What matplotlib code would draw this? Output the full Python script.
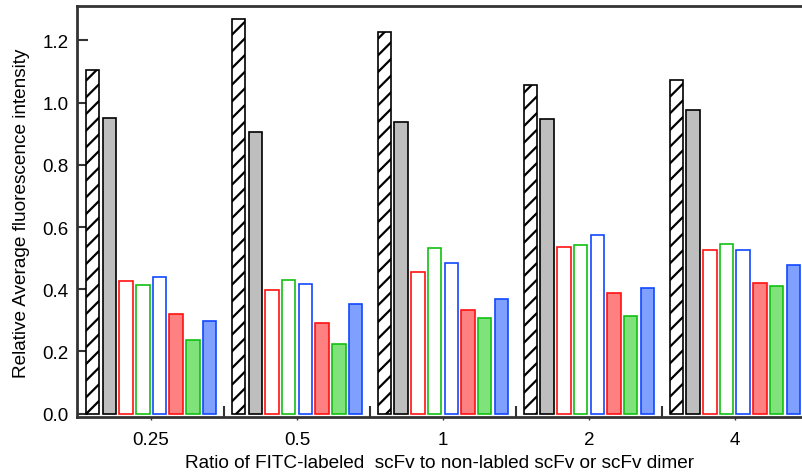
import numpy as np
import matplotlib
matplotlib.use("Agg")
import matplotlib.pyplot as plt
from matplotlib.ticker import FixedLocator

plt.rcParams['font.family'] = ['Liberation Sans', 'DejaVu Sans']
plt.rcParams['hatch.linewidth'] = 1.6

ratios = ['0.25', '0.5', '1', '2', '4']

# one list per bar series, in the order they appear inside each group
hatched = [1.104, 1.270, 1.226, 1.058, 1.073]
gray = [0.952, 0.907, 0.938, 0.949, 0.976]
red_open = [0.427, 0.399, 0.457, 0.535, 0.527]
green_open = [0.415, 0.431, 0.533, 0.542, 0.546]
blue_open = [0.440, 0.417, 0.485, 0.573, 0.526]
red_fill = [0.319, 0.290, 0.334, 0.387, 0.420]
green_fill = [0.237, 0.225, 0.308, 0.313, 0.410]
blue_fill = [0.299, 0.353, 0.370, 0.404, 0.478]

series = [hatched, gray, red_open, green_open, blue_open, red_fill, green_fill, blue_fill]
faces = ['white', '#bebebe', 'white', 'white', 'white', '#ff8080', '#80e27a', '#80a0ff']
edges = ['black', 'black', '#ff1010', '#10c010', '#1048ff', '#ff1010', '#10c010', '#1048ff']
hatches = ['//', None, None, None, None, None, None, None]

fig = plt.figure(figsize=(8.02, 4.77), dpi=100)
ax = fig.add_axes([0.0956, 0.123, 0.9044, 0.8617])

x = np.arange(len(ratios))
pitch = 0.1144
width = 0.0925
for k, vals in enumerate(series):
    ax.bar(x + (k - 3.5) * pitch, vals, width, color=faces[k], edgecolor=edges[k],
           linewidth=1.2, hatch=hatches[k], zorder=2)

ax.set_xlim(-0.51, 4.46)
ax.set_ylim(-0.012, 1.31)

ax.set_xticks(x)
ax.set_xticklabels(ratios, fontsize=13.5)
ax.xaxis.set_minor_locator(FixedLocator(x[:-1] + 0.5))
ax.tick_params(axis='x', which='major', direction='out', length=2, width=1, pad=8, colors='#333333', labelcolor='black')
ax.tick_params(axis='x', which='minor', direction='in', length=8, width=1.5, color='#333333')

ax.set_yticks(np.arange(0, 1.21, 0.2))
ax.set_yticklabels(['%.1f' % v for v in np.arange(0, 1.21, 0.2)], fontsize=13.5)
ax.tick_params(axis='y', direction='in', length=8, width=1.5, pad=6, color='#333333')

ax.spines['right'].set_visible(False)
for s in ['left', 'bottom', 'top']:
    ax.spines[s].set_linewidth(2)
    ax.spines[s].set_color('#333333')

ax.set_xlabel('Ratio of FITC-labeled  scFv to non-labled scFv or scFv dimer', fontsize=13.7, labelpad=4.5)
ax.set_ylabel('Relative Average fluorescence intensity', fontsize=13.7, labelpad=9)

fig.savefig('out.png', dpi=100)
